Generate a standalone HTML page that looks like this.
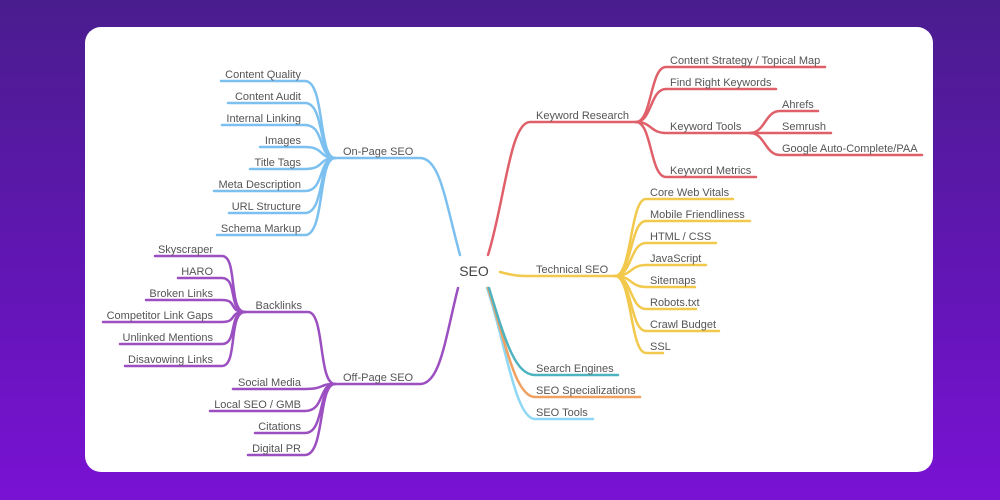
<!DOCTYPE html>
<html><head><meta charset="utf-8"><style>
html,body{margin:0;padding:0;width:1000px;height:500px;overflow:hidden}
body{background:linear-gradient(180deg,#4a1d8e 0%,#6415b8 60%,#7a12d4 100%)}
.card{position:absolute;left:85px;top:27px;width:848px;height:445px;background:#fff;border-radius:16px}
svg{position:absolute;left:0;top:0}
text{font-family:"Liberation Sans",sans-serif;font-size:11px;fill:#555}
path{fill:none;stroke-width:2.5;stroke-linecap:round}
</style></head><body>
<div class="card"></div>
<svg width="1000" height="500" viewBox="0 0 1000 500">
<g stroke="#7cc0f0">
<path d="M460 255 C445 200,440 158,420 158 L335 158"/>
<path d="M335 158 C318 158,325 81,305 81 L221 81"/>
<path d="M335 158 C318 158,325 103,305 103 L228 103"/>
<path d="M335 158 C318 158,325 125,305 125 L222 125"/>
<path d="M335 158 C318 158,325 147,305 147 L260 147"/>
<path d="M335 158 C318 158,325 169,305 169 L250 169"/>
<path d="M335 158 C318 158,325 191,305 191 L214 191"/>
<path d="M335 158 C318 158,325 213,305 213 L229 213"/>
<path d="M335 158 C318 158,325 235,305 235 L217 235"/>
</g>
<g stroke="#e0606a">
<path d="M488 255 C505 200,510 122,530 122 L636 122"/>
<path d="M636 122 C652 122,650 67,666 67 L825 67"/>
<path d="M636 122 C652 122,650 89,666 89 L776 89"/>
<path d="M636 122 C652 122,650 133,666 133 L750 133"/>
<path d="M636 122 C652 122,650 177,666 177 L756 177"/>
<path d="M750 133 C765 133,765 111,780 111 L818 111"/>
<path d="M750 133 L831 133"/>
<path d="M750 133 C765 133,765 155,780 155 L922 155"/>
</g>
<g stroke="#f2c94c">
<path d="M500 272 C515 276,520 276,530 276 L615 276"/>
<path d="M615 276 C632 276,630 199,646 199 L733 199"/>
<path d="M615 276 C632 276,630 221,646 221 L750 221"/>
<path d="M615 276 C632 276,630 243,646 243 L716 243"/>
<path d="M615 276 C632 276,630 265,646 265 L706 265"/>
<path d="M615 276 C632 276,630 287,646 287 L695 287"/>
<path d="M615 276 C632 276,630 309,646 309 L696 309"/>
<path d="M615 276 C632 276,630 331,646 331 L719 331"/>
<path d="M615 276 C632 276,630 353,646 353 L663 353"/>
</g>
<path stroke="#8fd8f5" d="M487 288 C505 340,515 419,535 419 L593 419"/>
<path stroke="#f0a060" d="M488 288 C505 340,515 397,535 397 L640 397"/>
<path stroke="#4fb3bf" d="M489 288 C505 340,515 375,535 375 L618 375"/>
<g stroke="#9b4fc0">
<path d="M458 288 C445 340,440 384,420 384 L335 384"/>
<path d="M335 384 C318 384,325 312,308 312 L245 312"/>
<path d="M245 312 C228 312,238 256,222 256 L155 256"/>
<path d="M245 312 C228 312,238 278,222 278 L178 278"/>
<path d="M245 312 C228 312,238 300,222 300 L146 300"/>
<path d="M245 312 C228 312,238 322,222 322 L103 322"/>
<path d="M245 312 C228 312,238 344,222 344 L120 344"/>
<path d="M245 312 C228 312,238 366,222 366 L125 366"/>
<path d="M335 384 C318 384,325 389,305 389 L233 389"/>
<path d="M335 384 C318 384,325 411,305 411 L210 411"/>
<path d="M335 384 C318 384,325 433,305 433 L255 433"/>
<path d="M335 384 C318 384,325 455,305 455 L248 455"/>
</g>
<text x="474" y="276" text-anchor="middle" style="font-size:14px;fill:#444">SEO</text>
<g text-anchor="end">
<text x="301" y="78">Content Quality</text>
<text x="301" y="100">Content Audit</text>
<text x="301" y="122">Internal Linking</text>
<text x="301" y="144">Images</text>
<text x="301" y="166">Title Tags</text>
<text x="301" y="188">Meta Description</text>
<text x="301" y="210">URL Structure</text>
<text x="301" y="232">Schema Markup</text>
<text x="213" y="253">Skyscraper</text>
<text x="213" y="275">HARO</text>
<text x="213" y="297">Broken Links</text>
<text x="213" y="319">Competitor Link Gaps</text>
<text x="213" y="341">Unlinked Mentions</text>
<text x="213" y="363">Disavowing Links</text>
<text x="301" y="386">Social Media</text>
<text x="301" y="408">Local SEO / GMB</text>
<text x="301" y="430">Citations</text>
<text x="301" y="452">Digital PR</text>
<text x="302" y="309">Backlinks</text>
</g>
<text x="343" y="155">On-Page SEO</text>
<text x="343" y="381">Off-Page SEO</text>
<text x="536" y="119">Keyword Research</text>
<text x="670" y="64">Content Strategy / Topical Map</text>
<text x="670" y="86">Find Right Keywords</text>
<text x="670" y="130">Keyword Tools</text>
<text x="670" y="174">Keyword Metrics</text>
<text x="782" y="108">Ahrefs</text>
<text x="782" y="130">Semrush</text>
<text x="782" y="152">Google Auto-Complete/PAA</text>
<text x="536" y="273">Technical SEO</text>
<text x="650" y="196">Core Web Vitals</text>
<text x="650" y="218">Mobile Friendliness</text>
<text x="650" y="240">HTML / CSS</text>
<text x="650" y="262">JavaScript</text>
<text x="650" y="284">Sitemaps</text>
<text x="650" y="306">Robots.txt</text>
<text x="650" y="328">Crawl Budget</text>
<text x="650" y="350">SSL</text>
<text x="536" y="372">Search Engines</text>
<text x="536" y="394">SEO Specializations</text>
<text x="536" y="416">SEO Tools</text>
</svg>
</body></html>
